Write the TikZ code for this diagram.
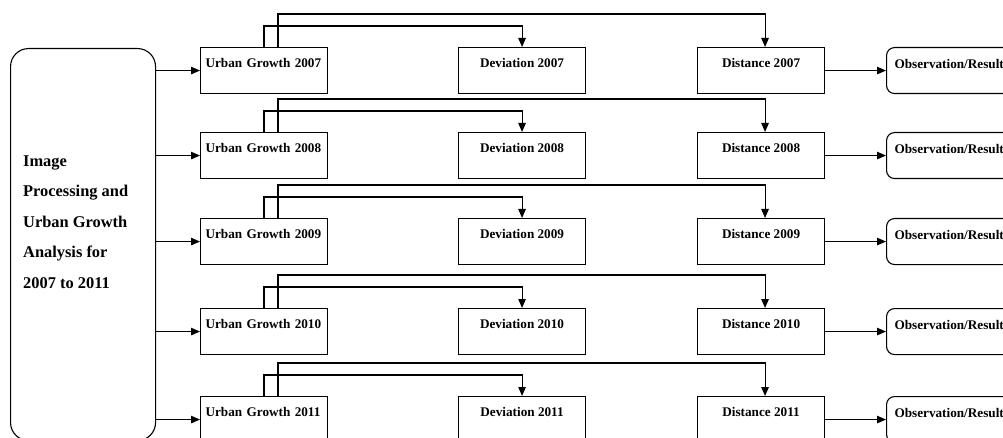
\documentclass[tikz,border=0pt]{standalone}
\usepackage{fontspec}
\setmainfont{Liberation Serif}
\usetikzlibrary{arrows.meta, positioning}

\tikzset{
  stage/.style={draw, line width=1.1pt, minimum width=127pt, minimum height=46pt,
    inner xsep=0pt, inner ysep=0pt, text height=19.5pt, text depth=26.5pt,
    font=\fontsize{13.2}{15}\selectfont\bfseries},
  growth/.style={stage, text width=117pt, align=left, inner xsep=5pt},
  result/.style={stage, rounded corners=8pt, text width=118pt, align=left,
    inner xsep=8pt, text height=20.5pt, text depth=25.5pt},
  inputbox/.style={draw, line width=1.1pt, rounded corners=18pt,
    minimum width=145pt, minimum height=392pt, inner sep=0pt},
  inputtext/.style={align=left, inner sep=0pt,
    font=\fontsize{16.4}{30.5}\selectfont\bfseries},
  arr/.style={-{Triangle[length=9pt,width=7.5pt]}, line width=1.1pt}
}

\begin{document}
\begin{tikzpicture}[x=1pt, y=-1pt]
\useasboundingbox (0,0) rectangle (1003,438);

% Input block on the left
\node[inputbox, anchor=north west] (input) at (10,48) {};
\node[inputtext, anchor=north west] (inputlabel) at (23,155.5)
  {Image\\Processing and\\Urban Growth\\Analysis for\\2007 to 2011};

% One row per year
\foreach \yr/\top in {2007/47, 2008/132, 2009/218, 2010/308, 2011/396} {
    \node[growth, anchor=north west] (ug\yr) at (200,\top) {Urban Growth \yr};
    \node[stage, anchor=north west] (dev\yr) at (458,\top) {Deviation \yr};
    \node[stage, anchor=north west] (dist\yr) at (697,\top) {Distance \yr};
    \node[result, anchor=north west] (obs\yr) at (886,\top) {Observation/Result};

    % Input to growth, distance to result
    \draw[arr] (input.east |- ug\yr.west) -- (ug\yr.west);
    \draw[arr] (dist\yr.east) -- (obs\yr.west);

    % Growth feeds deviation and distance
    \draw[arr] ([xshift=64pt]ug\yr.north west) -- ++(0,-21) -| (dev\yr.north);
    \draw[arr] ([xshift=78pt]ug\yr.north west) -- ++(0,-33) -| ([xshift=4pt]dist\yr.north);
}
\end{tikzpicture}
\end{document}
